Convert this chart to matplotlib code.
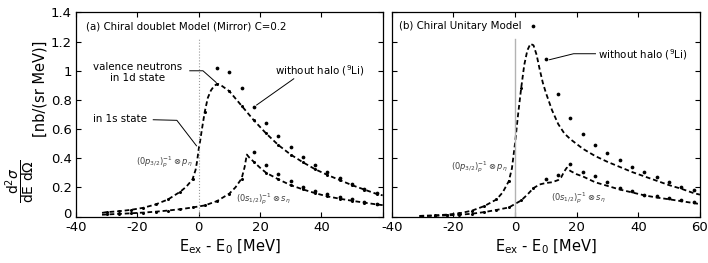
import matplotlib
matplotlib.use("Agg")
import matplotlib.pyplot as plt
import matplotlib.transforms as mtransforms
import numpy as np

plt.rcParams['font.family'] = ['DejaVu Sans']
plt.rcParams['mathtext.fontset'] = 'dejavusans'

# ---- panel (a): chiral doublet model (mirror), C=0.2 ----
a_p_x = [-31.5, -30, -26, -22, -18, -14, -10, -6, -4, -2, -1, -0.5, 0, 0.5, 1, 2, 3, 4, 5, 6, 7, 8,
         10, 12, 14, 16, 18, 22, 26, 30, 34, 38, 42, 46, 50, 54, 58, 60]
a_p_y = [0.025, 0.03, 0.036, 0.046, 0.06, 0.083, 0.117, 0.17, 0.205, 0.255, 0.32, 0.38, 0.46, 0.52, 0.59, 0.72,
         0.815, 0.865, 0.895, 0.91, 0.905, 0.89, 0.86, 0.81, 0.76, 0.71, 0.66, 0.57, 0.49, 0.425, 0.372,
         0.324, 0.285, 0.25, 0.215, 0.185, 0.155, 0.145]
a_p_mx = [-30, -26, -22, -18, -14, -10, -6, -2, 2, 6, 10, 14, 18, 22, 26, 30, 34, 38, 42, 46, 50, 54, 58]
a_p_my = [0.03, 0.036, 0.046, 0.06, 0.083, 0.117, 0.17, 0.255, 0.72, 0.91, 0.86, 0.76, 0.66, 0.57, 0.49,
          0.425, 0.372, 0.324, 0.285, 0.25, 0.215, 0.185, 0.155]

a_s_x = [-31.5, -30, -26, -22, -18, -14, -10, -6, -2, 2, 6, 10, 12, 14, 15, 15.7, 16.5, 18, 20, 22, 26,
         30, 34, 38, 42, 46, 50, 54, 58, 60]
a_s_y = [0.012, 0.014, 0.018, 0.022, 0.027, 0.033, 0.041, 0.05, 0.062, 0.076, 0.106, 0.157, 0.2, 0.26,
         0.34, 0.425, 0.405, 0.375, 0.335, 0.30, 0.255, 0.215, 0.186, 0.16, 0.138, 0.122, 0.108, 0.095,
         0.083, 0.078]
a_s_mx = [-30, -26, -22, -18, -14, -10, -6, -2, 2, 6, 10, 14, 18, 22, 26, 30, 34, 38, 42, 46, 50, 54, 58]
a_s_my = [0.014, 0.018, 0.022, 0.027, 0.033, 0.041, 0.05, 0.062, 0.076, 0.106, 0.157, 0.26, 0.375, 0.30,
          0.255, 0.215, 0.186, 0.16, 0.138, 0.122, 0.108, 0.095, 0.083]

# without halo (9Li)
a_dot_p_x = [6, 10, 14, 18, 22, 26, 30, 34, 38, 42, 46, 50, 54, 58]
a_dot_p_y = [1.02, 0.99, 0.88, 0.75, 0.645, 0.552, 0.474, 0.407, 0.353, 0.306, 0.262, 0.225, 0.19, 0.163]
a_dot_s_x = [18, 22, 26, 30, 34, 38, 42, 46, 50, 54, 58]
a_dot_s_y = [0.443, 0.352, 0.29, 0.243, 0.205, 0.175, 0.152, 0.136, 0.117, 0.101, 0.087]

# ---- panel (b): chiral unitary model ----
b_p_x = [-31, -30, -26, -22, -18, -14, -10, -6, -4, -2, -1, 0, 1, 2, 3, 4, 5, 6, 7, 8, 9, 10, 12, 14,
         16, 18, 22, 26, 30, 34, 38, 42, 46, 50, 54, 58, 60]
b_p_y = [0.004, 0.005, 0.008, 0.013, 0.022, 0.04, 0.071, 0.117, 0.165, 0.243, 0.33, 0.5, 0.7, 0.88, 1.04,
         1.14, 1.185, 1.175, 1.11, 1.01, 0.92, 0.85, 0.73, 0.635, 0.57, 0.53, 0.465, 0.415, 0.375, 0.34,
         0.305, 0.275, 0.245, 0.215, 0.19, 0.16, 0.15]
b_p_mx = [-30, -26, -22, -18, -14, -10, -6, -2, 2]
b_p_my = [0.005, 0.008, 0.013, 0.022, 0.04, 0.071, 0.117, 0.243, 0.88]

b_s_x = [-31, -30, -26, -22, -18, -14, -10, -6, -2, 2, 4, 6, 8, 10, 12, 14, 15, 16, 16.8, 17.5, 18, 20,
         22, 26, 30, 34, 38, 42, 46, 50, 54, 58, 60]
b_s_y = [0.002, 0.003, 0.005, 0.008, 0.012, 0.019, 0.03, 0.045, 0.062, 0.11, 0.15, 0.195, 0.22, 0.23,
         0.235, 0.25, 0.27, 0.31, 0.335, 0.32, 0.312, 0.29, 0.275, 0.235, 0.21, 0.185, 0.165, 0.145,
         0.13, 0.118, 0.105, 0.092, 0.085]
b_s_mx = [-30, -26, -22, -18, -14, -10, -6, -2, 2, 6]
b_s_my = [0.003, 0.005, 0.008, 0.012, 0.019, 0.03, 0.045, 0.062, 0.11, 0.195]

b_dot_p_x = [6, 10, 14, 18, 22, 26, 30, 34, 38, 42, 46, 50, 54, 58]
b_dot_p_y = [1.31, 1.08, 0.84, 0.675, 0.567, 0.49, 0.434, 0.386, 0.343, 0.306, 0.271, 0.237, 0.202, 0.179]
b_dot_s_x = [10, 14, 18, 22, 26, 30, 34, 38, 42, 46, 50, 54, 58]
b_dot_s_y = [0.255, 0.282, 0.36, 0.307, 0.275, 0.237, 0.198, 0.175, 0.15, 0.14, 0.129, 0.112, 0.099]

x_ticks = [-40, -20, 0, 20, 40, 60]
y_ticks = [0, 0.2, 0.4, 0.6, 0.8, 1, 1.2, 1.4]

p_label = r'$(0p_{3/2})_p^{-1}\otimes p_\eta$'
s_label = r'$(0s_{1/2})_p^{-1}\otimes s_\eta$'

fig = plt.figure(figsize=(7.08, 2.63), dpi=100)
axa = fig.add_axes([0.1073, 0.1768, 0.4332, 0.7757])
axb = fig.add_axes([0.5532, 0.1768, 0.4355, 0.7757])

dash = (2.6, 1.6)


def draw_panel(ax, px, py, pmx, pmy, sx, sy, smx, smy, dpx, dpy, dsx, dsy):
    for cx, cy, mx, my in [(px, py, pmx, pmy), (sx, sy, smx, smy)]:
        ax.plot(cx, cy, color='black', lw=1.3, dashes=dash)
        ax.plot(mx, my, 'o', color='black', ms=2.2, mew=0)
    ax.plot(dpx, dpy, 'o', color='black', ms=2.7, mew=0)
    ax.plot(dsx, dsy, 'o', color='black', ms=2.7, mew=0)
    ax.set_xlim(-40, 60)
    ax.set_ylim(0, 1.4)
    ax.set_xticks(x_ticks)
    ax.set_yticks(y_ticks)
    ax.tick_params(direction='in', top=True, right=True, length=3.5, width=0.8,
                   labelsize=9.5, pad=3)
    for sp in ax.spines.values():
        sp.set_linewidth(0.9)
    ax.set_xlabel(r'E$_{\rm ex}$ - E$_0$ [MeV]', fontsize=10.5, labelpad=3)


draw_panel(axa, a_p_x, a_p_y, a_p_mx, a_p_my, a_s_x, a_s_y, a_s_mx, a_s_my,
           a_dot_p_x, a_dot_p_y, a_dot_s_x, a_dot_s_y)
draw_panel(axb, b_p_x, b_p_y, b_p_mx, b_p_my, b_s_x, b_s_y, b_s_mx, b_s_my,
           b_dot_p_x, b_dot_p_y, b_dot_s_x, b_dot_s_y)

axa.set_xticklabels(['-40', '-20', '0', '20', '40', ''])
axa.set_yticklabels(['0', '0.2', '0.4', '0.6', '0.8', '1', '1.2', '1.4'])
axb.set_xticklabels(['-40', '-20', '0', '20', '40', '60'])
axb.set_yticklabels([])

# lift the "0" label a little so it clears the x tick labels
lbl0 = axa.get_yticklabels()[0]
lbl0.set_transform(lbl0.get_transform() + mtransforms.ScaledTranslation(0, 4 / 100, fig.dpi_scale_trans))

# threshold lines
axa.plot([0, 0], [0, 1.22], color='0.6', lw=0.8, ls=':')
axb.plot([0, 0], [0, 1.22], color='0.7', lw=1.0)

# panel texts
axa.text(-36.8, 1.307, '(a) Chiral doublet Model (Mirror) C=0.2', fontsize=7.4, va='center')
axb.text(-37.7, 1.307, '(b) Chiral Unitary Model', fontsize=7.4, va='center')

axa.text(-11.3, 0.372, p_label, fontsize=6, color='0.25', ha='center', va='center')
axa.text(21, 0.117, s_label, fontsize=6, color='0.25', ha='center', va='center')
axb.text(-11.6, 0.338, p_label, fontsize=6, color='0.25', ha='center', va='center')
axb.text(20.6, 0.124, s_label, fontsize=6, color='0.25', ha='center', va='center')

axa.text(-20, 0.99, 'valence neutrons\nin 1d state', fontsize=7.4, ha='center', va='center',
         linespacing=1.1)
axa.plot([-2.9, 1.4, 5.7], [1.0, 1.0, 0.92], color='black', lw=0.7)
axa.text(-25.5, 0.67, 'in 1s state', fontsize=7.4, ha='center', va='center')
axa.plot([-14.8, -7.1, -0.7], [0.664, 0.66, 0.485], color='black', lw=0.7)
axa.text(39.5, 1.0, r'without halo ($^9$Li)', fontsize=7.4, ha='center', va='center')
axa.plot([31, 18.9], [0.945, 0.765], color='black', lw=0.7)

axb.text(41.6, 1.11, r'without halo ($^9$Li)', fontsize=7.4, ha='center', va='center')
axb.plot([26.1, 19, 11.2], [1.117, 1.117, 1.076], color='black', lw=0.7)

# y label: fraction + units
fig.text(0.0282, 0.312, r'$\dfrac{\mathrm{d}^2\sigma}{\mathrm{dE\ d}\Omega}$', rotation=90,
         fontsize=10, ha='center', va='center')
fig.text(0.0565, 0.6616, '[nb/(sr MeV)]', rotation=90, fontsize=10.5, ha='center', va='center')

fig.savefig('out.png', dpi=100)
